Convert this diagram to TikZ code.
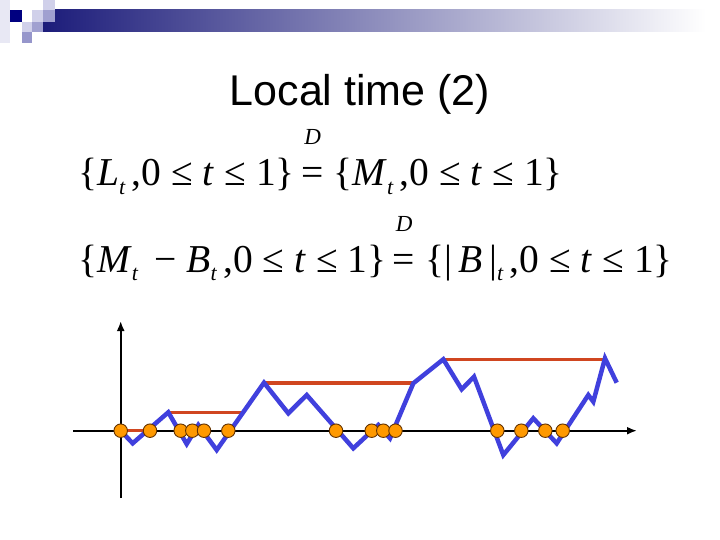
\documentclass[tikz,border=0pt]{standalone}
\usepackage{fontspec}
\setmainfont{Liberation Serif}
\newfontfamily\titlefont{Liberation Sans}
\usetikzlibrary{arrows.meta}

\definecolor{barblue}{RGB}{28,28,122}
\definecolor{sqnavy}{RGB}{0,0,128}
\definecolor{sqlight}{RGB}{208,208,234}
\definecolor{sqmid}{RGB}{160,160,208}
\definecolor{sqpale}{RGB}{232,232,244}
\definecolor{pathblue}{RGB}{64,64,221}
\definecolor{maxred}{RGB}{208,70,32}
\definecolor{dotorange}{RGB}{255,153,0}
\definecolor{dotedge}{RGB}{100,50,0}

\newcommand{\vr}[1]{\textit{#1}}
\newcommand{\sbs}[1]{\raisebox{-9pt}{\fontsize{22}{22}\selectfont\itshape #1}}
\newcommand{\deq}{\rlap{\hspace{3pt}\raisebox{41pt}{\fontsize{23}{23}\selectfont\itshape D}}=}

\begin{document}
\begin{tikzpicture}[
    x=1pt, y=-1pt,
    formula/.style={anchor=base west, inner sep=0pt, font=\fontsize{39.5}{39.5}\selectfont},
    heading/.style={anchor=base, inner sep=0pt, font=\titlefont\fontsize{43}{43}\selectfont},
    axis/.style={line width=2.4pt, -{Latex[length=10pt,width=8pt]}},
    walk/.style={pathblue, line width=4.5pt},
    maxline/.style={maxred, line width=3.3pt},
    zero/.style={circle, fill=dotorange, draw=dotedge, line width=0.9pt,
      minimum size=13.5pt, inner sep=0pt}
]
\useasboundingbox (0,0) rectangle (720,540);

% header bar and squares
\fill[sqpale] (0,0) rectangle (10,43);
\shade[left color=barblue, right color=white] (43,10) rectangle (706,32);
\fill[sqnavy] (10,10) rectangle (22,22);
\fill[sqlight] (43,0) rectangle (55,10);
\fill[sqlight] (32,10) rectangle (43,22);
\fill[sqmid] (43,10) rectangle (55,22);
\fill[sqlight] (22,22) rectangle (32,32);
\fill[sqmid] (32,22) rectangle (43,32);
\fill[sqmid!110] (22,32) rectangle (32,43);

\node[heading] (title) at (360,106) {Local time (2)};
\node[formula] (law1) at (78,186)
  {\{\vr{L}\sbs{t}\,,0 ≤ \vr{t} ≤ 1\}\,\deq\ \{\vr{M}\sbs{t}\,,0 ≤ \vr{t} ≤ 1\}};
\node[formula] (law2) at (78,272)
  {\{\vr{M}\sbs{t}\,\ −\ \vr{B}\sbs{t}\,,0 ≤ \vr{t} ≤ 1\}\,\deq\ \{|\,\vr{B}\,|\sbs{t}\,,0 ≤ \vr{t} ≤ 1\}};

% axes
\coordinate (origin) at (120.7,430.7);
\draw[axis] (120.7,498) -- (120.7,321);
\draw[axis] (73,430.7) -- (637,430.7);

% running maximum
\draw[maxline] (origin) -- (150,430.7);
\draw[maxline] (168.3,412.8) -- (242,412.8);
\draw[maxline] (264,382.9) -- (413.3,382.9);
\draw[maxline] (443.3,359.3) -- (605,359.3);

% the walk
\draw[walk] plot coordinates {(120.7,430.7) (132.7,443.3) (168.3,412.3)
  (186.7,444) (198.3,425) (216.7,450) (264,382.7) (288.3,413.3) (306.7,395)
  (353.3,448.3) (378.3,425) (390,438.3) (413.3,383.3) (443.3,359.3)
  (461.7,389.3) (474,376.7) (503.3,455) (533.3,418.3) (556.7,443.3)
  (588.3,395) (593.3,401.7) (605,358.3) (616.7,382.7)};

% zeros
\foreach \x [count=\i] in {120.7,150,180.7,192.3,204,228.3,336,371.7,383.3,
  395.5,497.3,521.3,545.3,562.7}
  \node[zero] (z\i) at (\x,430.7) {};
\end{tikzpicture}
\end{document}
